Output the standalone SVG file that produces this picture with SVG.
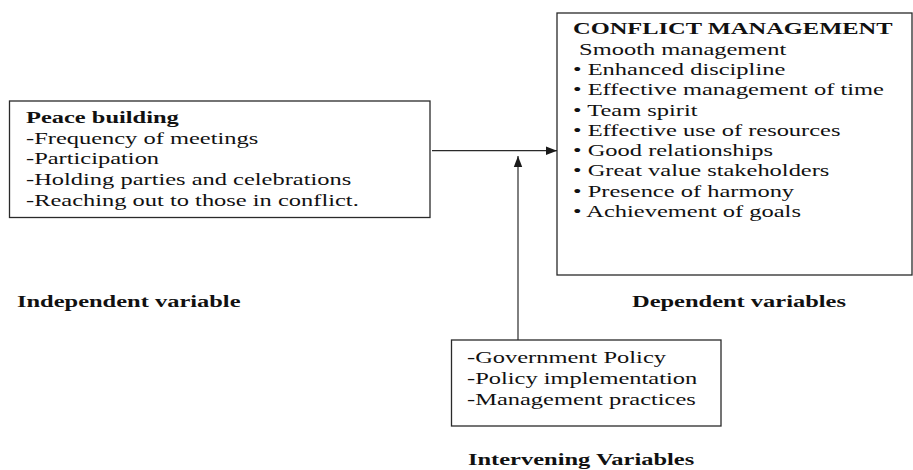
<svg xmlns="http://www.w3.org/2000/svg" width="913" height="470" viewBox="0 0 913 470">
  <style>
    .box { fill: #ffffff; stroke: #2a2a2a; stroke-width: 1.3; }
    .conn { fill: none; stroke: #2a2a2a; stroke-width: 1.2; }
    .t { font-family: "Liberation Serif", "Times New Roman", serif; font-size: 16px; fill: #111; }
    .b { font-weight: bold; }
  </style>
  <defs>
    <marker id="arrow" markerUnits="userSpaceOnUse" markerWidth="12" markerHeight="10" refX="11" refY="5" orient="auto">
      <polygon points="0,0.8 11,5 0,9.2" fill="#1a1a1a"/>
    </marker>
  </defs>
  <rect width="913" height="470" fill="#ffffff"/>

  <g id="independent">
    <rect class="box" x="9.5" y="101" width="420.5" height="116.5"/>
    <text class="t" transform="translate(26,123) scale(1.53,1)">
      <tspan x="0" y="0" class="b">Peace building</tspan>
      <tspan x="0" y="20.7">-Frequency of meetings</tspan>
      <tspan x="0" y="41.4">-Participation</tspan>
      <tspan x="0" y="62.1">-Holding parties and celebrations</tspan>
      <tspan x="0" y="82.8">-Reaching out to those in conflict.</tspan>
    </text>
  </g>

  <g id="dependent">
    <rect class="box" x="557" y="13" width="355" height="262"/>
    <text class="t" transform="translate(573,34) scale(1.53,1)">
      <tspan x="0" y="0" class="b">CONFLICT MANAGEMENT</tspan>
    </text>
    <text class="t" transform="translate(573,55) scale(1.53,1)">
      <tspan x="4" y="0">Smooth management</tspan>
      <tspan x="0" y="20.25">• Enhanced discipline</tspan>
      <tspan x="0" y="40.5">• Effective management of time</tspan>
      <tspan x="0" y="60.75">• Team spirit</tspan>
      <tspan x="0" y="81">• Effective use of resources</tspan>
      <tspan x="0" y="101.25">• Good relationships</tspan>
      <tspan x="0" y="121.5">• Great value stakeholders</tspan>
      <tspan x="0" y="141.75">• Presence of harmony</tspan>
      <tspan x="0" y="162">• Achievement of goals</tspan>
    </text>
  </g>

  <g id="intervening">
    <rect class="box" x="451.5" y="340" width="269.5" height="86"/>
    <text class="t" transform="translate(467,363) scale(1.53,1)">
      <tspan x="0" y="0">-Government Policy</tspan>
      <tspan x="0" y="21">-Policy implementation</tspan>
      <tspan x="0" y="42">-Management practices</tspan>
    </text>
  </g>

  <g id="labels">
    <text class="t b" transform="translate(17,307) scale(1.53,1)">Independent variable</text>
    <text class="t b" transform="translate(632,307) scale(1.53,1)">Dependent variables</text>
    <text class="t b" transform="translate(468,465) scale(1.53,1)">Intervening Variables</text>
  </g>

  <g id="connectors">
    <line class="conn" x1="432" y1="150.7" x2="557" y2="150.7" marker-end="url(#arrow)"/>
    <line class="conn" x1="518" y1="340" x2="518" y2="156" marker-end="url(#arrow)"/>
  </g>
</svg>
